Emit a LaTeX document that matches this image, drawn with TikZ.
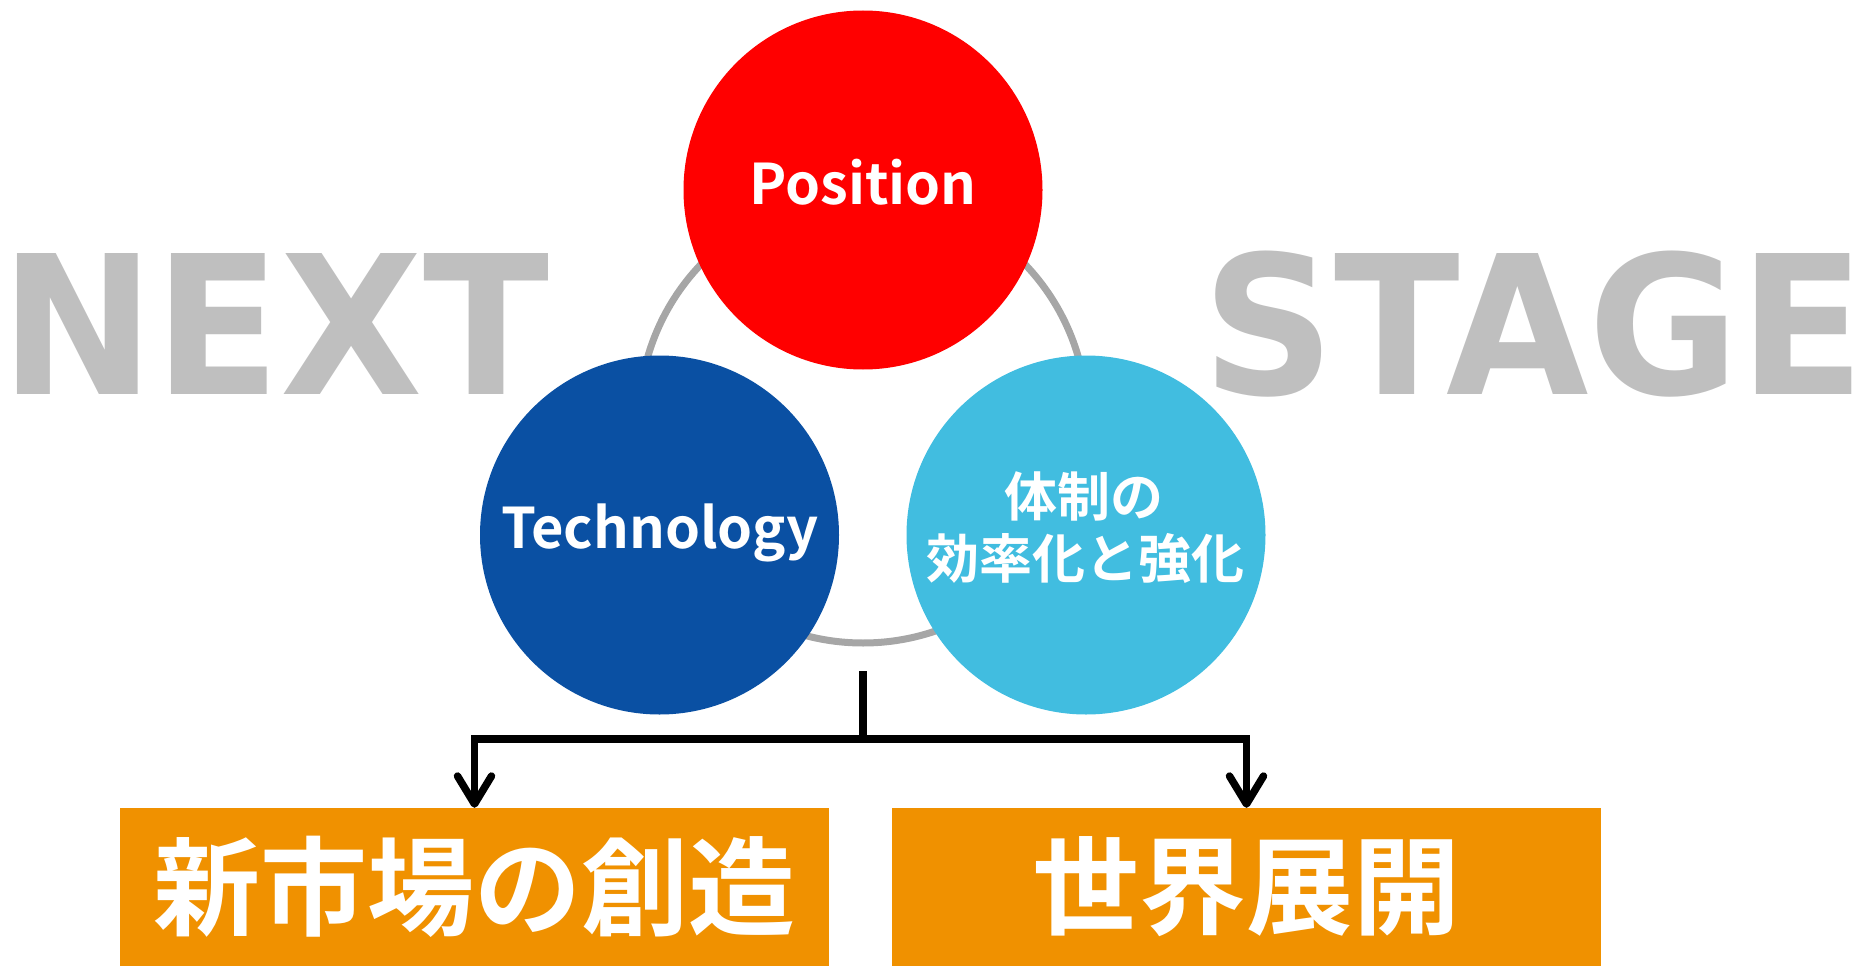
\documentclass[tikz,border=0pt]{standalone}
\usepackage{fontspec}
\usetikzlibrary{arrows.meta}
\newfontfamily\jpb{Noto Sans CJK JP Bold}
\newfontfamily\dvb{DejaVu Sans Bold}
\definecolor{ngray}{RGB}{191,191,191}
\definecolor{rgray}{RGB}{166,166,166}
\definecolor{cred}{RGB}{255,0,0}
\definecolor{cblue}{RGB}{10,80,163}
\definecolor{ccyan}{RGB}{65,189,224}
\definecolor{borange}{RGB}{240,145,0}
\begin{document}
\begin{tikzpicture}[x=1pt,y=-1pt,
  circ/.style={circle, minimum size=359pt, inner sep=0pt, draw=none},
  lbl/.style={text=white, inner sep=0pt, font=\jpb\fontsize{56}{60}\selectfont},
  jlbl/.style={text=white, inner sep=0pt, font=\jpb\fontsize{53}{62}\selectfont},
  big/.style={text=ngray, inner sep=0pt, font=\dvb\fontsize{193.4}{200}\selectfont},
  box/.style={fill=borange, minimum width=709pt, minimum height=158pt, inner sep=0pt, text=white, font=\jpb\fontsize{107}{110}\selectfont},
  conn/.style={line width=7.5pt, black},
  arr/.style={conn, -{Straight Barb[length=28pt,width=34pt,round]}}
]
\useasboundingbox (0,0) rectangle (1856,966);
% ring
\draw[rgray, line width=7pt] (863,419) circle [radius=224pt];
% circles
\node[circ, fill=cred] (pos) at (863,190) {};
\node[circ, fill=cblue] (tec) at (659.5,535) {};
\node[circ, fill=ccyan] (org) at (1086,535) {};
\node[lbl, anchor=base] (posT) at (863,204) {Position};
\node[lbl, anchor=base] (tecT) at (660,548) {Technology};
\node[jlbl, anchor=base] (orgT1) at (1084,516) {体制の};
\node[jlbl, anchor=base] (orgT2) at (1085,578) {効率化と強化};
% big words
\node[big, anchor=base west] (next) at (0,394) {\scalebox{0.955}[1]{NEXT}};
\node[big, anchor=base west] (stage) at (1202,394) {\scalebox{0.952}[1]{STAGE}\kern-26pt};
% boxes
\node[box] (b1) at (474.5,887) {新市場の創造};
\node[box] (b2) at (1246.5,887) {世界展開};
% connectors
\coordinate (src) at (863,671);
\coordinate (junc) at (863,739);
\draw[conn] (src) -- (junc);
\draw[arr] (junc) -| (b1.north);
\draw[arr] (junc) -| (b2.north);
\end{tikzpicture}
\end{document}
